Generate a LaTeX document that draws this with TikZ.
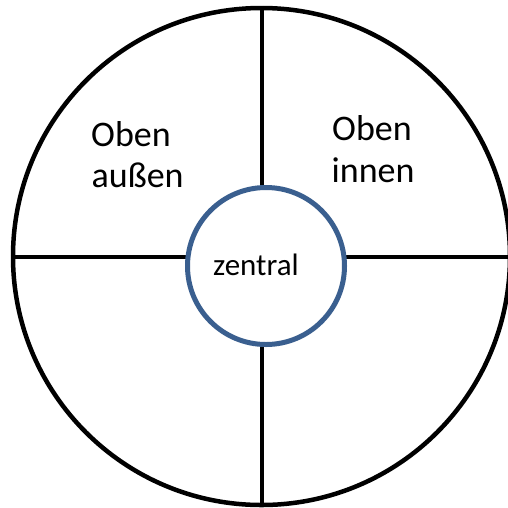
\documentclass[tikz,border=0pt]{standalone}
\usepackage{fontspec}
\setmainfont{Carlito}
\usepackage{tikz}
\usetikzlibrary{positioning}
\definecolor{ringblue}{HTML}{3A5F8F}

\begin{document}
\begin{tikzpicture}[
    x=1pt, y=-1pt,
    ring/.style={circle, draw, line width=4.5pt, inner sep=0pt},
    cross/.style={line width=4pt},
    big/.style={font=\fontsize{36}{43}\selectfont, inner sep=0pt, anchor=base west},
]
\useasboundingbox (0, 0) rectangle (508, 507);
% === Outer ring ===
\node[ring, minimum size=497pt] (outer) at (261.5, 256.5) {};
% Cross lines
\draw[cross] (outer.north) -- (outer.south);
\draw[cross] (outer.west) -- (outer.east);
% === Centre circle ===
\node[ring, draw=ringblue, line width=5pt, fill=white, minimum size=157pt] (inner) at (266, 266) {};
\node[font=\fontsize{31}{37}\selectfont, inner sep=0pt, anchor=base west] (zentral) at (213, 275) {zentral};
% === Labels ===
\node[big] (oa1) at (91, 146) {Oben};
\node[big] (oa2) at (91.5, 187.7) {außen};
\node[big] (oi1) at (332, 140.7) {Oben};
\node[big] (oi2) at (331.5, 182.3) {innen};
\end{tikzpicture}
\end{document}
